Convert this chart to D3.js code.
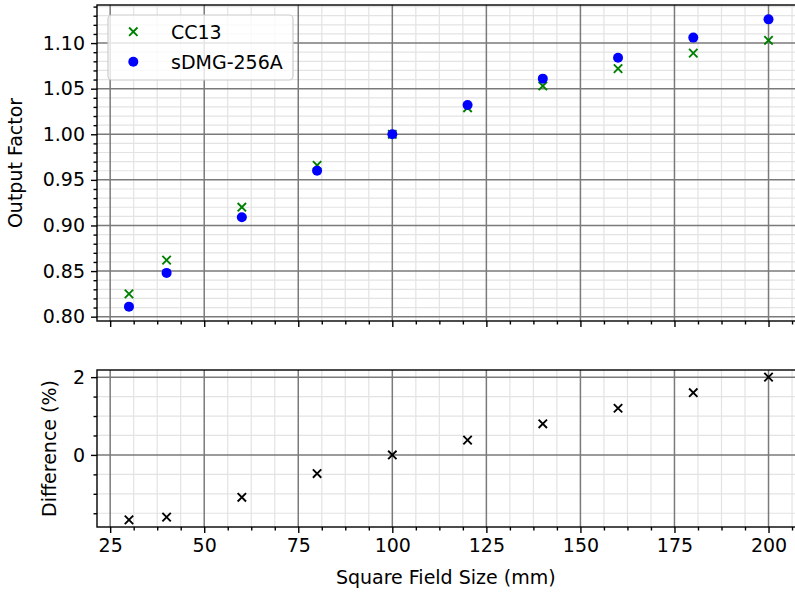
<!DOCTYPE html>
<html><head><meta charset="utf-8">
<script src="https://cdn.jsdelivr.net/npm/d3@7"></script>
<style>
html,body{margin:0;padding:0;background:#fff;}
svg{display:block;font-family:"DejaVu Sans",sans-serif;}
</style></head>
<body><svg id="c" width="795" height="594"></svg>
<script>
const fieldSizes = [30, 40, 60, 80, 100, 120, 140, 160, 180, 200];
const cc13 = [0.825, 0.862, 0.920, 0.966, 1.000, 1.029, 1.053, 1.072, 1.089, 1.103];
const sdmg = [0.811, 0.848, 0.909, 0.960, 1.000, 1.032, 1.061, 1.084, 1.106, 1.126];
const diffPct = [-1.67, -1.60, -1.09, -0.48, 0.00, 0.38, 0.80, 1.20, 1.60, 2.00];
const xMajor = [25, 50, 75, 100, 125, 150, 175, 200];
const topYMajor = [0.80, 0.85, 0.90, 0.95, 1.00, 1.05, 1.10];
const botYMajor = [0, 2];
const seriesNames = ["CC13", "sDMG-256A"];

const svg = d3.select("#c");
const FS = 19;
function padDomain(ext){ const m=(ext[1]-ext[0])*0.05; return [ext[0]-m, ext[1]+m]; }

const L = 97, R = 800.5;
const topBox = {t:5, b:321};
const botBox = {t:370, b:527};

const x = d3.scaleLinear().domain(padDomain(d3.extent(fieldSizes))).range([L, R]);
const yTop = d3.scaleLinear().domain(padDomain(d3.extent(cc13.concat(sdmg)))).range([topBox.b, topBox.t]);
const yBot = d3.scaleLinear().domain(padDomain(d3.extent(diffPct))).range([botBox.b, botBox.t]);

const inDom = (s)=>v=>v>=s.domain()[0]-1e-9 && v<=s.domain()[1]+1e-9;
const xMinor = d3.range(0, 30).map(i=>25+i*6.25).filter(v=>v%25!==0).filter(inDom(x));
const xMinorAll = d3.range(-2, 30).map(i=>25+i*6.25).filter(v=>Math.abs(v%25)>1e-9).filter(inDom(x));
const topYMinor = d3.range(70, 120).map(i=>i/100).filter(v=>Math.abs(Math.round(v*100)%5)!==0).filter(inDom(yTop));
const botYMinor = d3.range(-8, 9).map(i=>i/2).filter(v=>Math.abs(v%2)>1e-9).filter(inDom(yBot));

function panel(y, box, yMajor, yMinor, showXLabels){
  const g = svg.append("g");
  const clipId = "clip"+box.t;
  svg.append("clipPath").attr("id", clipId).append("rect")
    .attr("x", L).attr("y", box.t).attr("width", R-L).attr("height", box.b-box.t);
  const grid = g.append("g").attr("clip-path", `url(#${clipId})`);
  // minor grid
  grid.selectAll(".mgx").data(xMinorAll).enter().append("line")
    .attr("x1", d=>x(d)).attr("x2", d=>x(d)).attr("y1", box.t).attr("y2", box.b)
    .attr("stroke", "#e3e3e3").attr("stroke-width", 1.2);
  grid.selectAll(".mgy").data(yMinor).enter().append("line")
    .attr("x1", L).attr("x2", R).attr("y1", d=>y(d)).attr("y2", d=>y(d))
    .attr("stroke", "#e3e3e3").attr("stroke-width", 1.2);
  // major grid
  grid.selectAll(".Mgx").data(xMajor).enter().append("line")
    .attr("x1", d=>x(d)).attr("x2", d=>x(d)).attr("y1", box.t).attr("y2", box.b)
    .attr("stroke", "#7a7a7a").attr("stroke-width", 1.5);
  grid.selectAll(".Mgy").data(yMajor).enter().append("line")
    .attr("x1", L).attr("x2", R).attr("y1", d=>y(d)).attr("y2", d=>y(d))
    .attr("stroke", "#7a7a7a").attr("stroke-width", 1.5);
  // axes
  const ax = g.append("g").attr("transform", `translate(0,${box.b})`)
    .call(d3.axisBottom(x).tickValues(xMajor).tickSize(6).tickPadding(6)
      .tickFormat(showXLabels ? d3.format("d") : ()=>""));
  const axm = g.append("g").attr("transform", `translate(0,${box.b})`)
    .call(d3.axisBottom(x).tickValues(xMinor).tickSize(3.5).tickFormat(()=>""));
  const ay = g.append("g").attr("transform", `translate(${L},0)`)
    .call(d3.axisLeft(y).tickValues(yMajor).tickSize(6).tickPadding(6)
      .tickFormat(yMajor.length>2 ? d3.format(".2f") : d3.format("d")));
  const aym = g.append("g").attr("transform", `translate(${L},0)`)
    .call(d3.axisLeft(y).tickValues(yMinor).tickSize(3.5).tickFormat(()=>""));
  [ax, axm, ay, aym].forEach(a=>{
    a.select(".domain").remove();
    a.selectAll("line").attr("stroke", "#000").attr("stroke-width", 1.4);
    a.selectAll("text").attr("font-size", FS).attr("fill", "#000").attr("font-family", "DejaVu Sans");
  });
  // spines
  g.append("rect").attr("x", L).attr("y", box.t).attr("width", R-L).attr("height", box.b-box.t)
    .attr("fill", "none").attr("stroke", "#000").attr("stroke-width", 1.4);
  return {g, clipId};
}

const pTop = panel(yTop, topBox, topYMajor, topYMinor, false);
const pBot = panel(yBot, botBox, botYMajor, botYMinor, true);

const xPath = "M-4.2,-4.2L4.2,4.2M-4.2,4.2L4.2,-4.2";
const ptsTop = pTop.g.append("g").attr("clip-path", `url(#${pTop.clipId})`);
ptsTop.selectAll(".cc").data(fieldSizes).enter().append("path")
  .attr("d", xPath).attr("transform", (d,i)=>`translate(${x(d)},${yTop(cc13[i])})`)
  .attr("stroke", "#008000").attr("stroke-width", 1.9).attr("fill", "none");
ptsTop.selectAll(".sd").data(fieldSizes).enter().append("circle")
  .attr("cx", d=>x(d)).attr("cy", (d,i)=>yTop(sdmg[i])).attr("r", 5).attr("fill", "#0000ff");

const ptsBot = pBot.g.append("g").attr("clip-path", `url(#${pBot.clipId})`);
ptsBot.selectAll(".df").data(fieldSizes).enter().append("path")
  .attr("d", xPath).attr("transform", (d,i)=>`translate(${x(d)},${yBot(diffPct[i])})`)
  .attr("stroke", "#000").attr("stroke-width", 1.9).attr("fill", "none");

// axis labels
svg.append("text").attr("transform", `translate(22,${(topBox.t+topBox.b)/2}) rotate(-90)`)
  .attr("text-anchor", "middle").attr("font-size", FS).text("Output Factor");
svg.append("text").attr("transform", `translate(55.5,${(botBox.t+botBox.b)/2}) rotate(-90)`)
  .attr("text-anchor", "middle").attr("font-size", FS).text("Difference (%)");
svg.append("text").attr("x", (L+R)/2 - 3).attr("y", 584)
  .attr("text-anchor", "middle").attr("font-size", FS).text("Square Field Size (mm)");

// legend
const lg = svg.append("g");
lg.append("rect").attr("x", 108).attr("y", 15).attr("width", 185).attr("height", 65).attr("rx", 4)
  .attr("fill", "#fff").attr("fill-opacity", 0.8).attr("stroke", "#cccccc").attr("stroke-width", 1.2);
lg.append("path").attr("d", xPath).attr("transform", "translate(133.3,31.7)")
  .attr("stroke", "#008000").attr("stroke-width", 1.9).attr("fill", "none");
lg.append("circle").attr("cx", 133.3).attr("cy", 61.7).attr("r", 5).attr("fill", "#0000ff");
lg.selectAll(".lt").data(seriesNames).enter().append("text")
  .attr("x", 171).attr("y", (d,i)=>31.7 + i*30 + 7).attr("font-size", FS).text(d=>d);
</script></body></html>
